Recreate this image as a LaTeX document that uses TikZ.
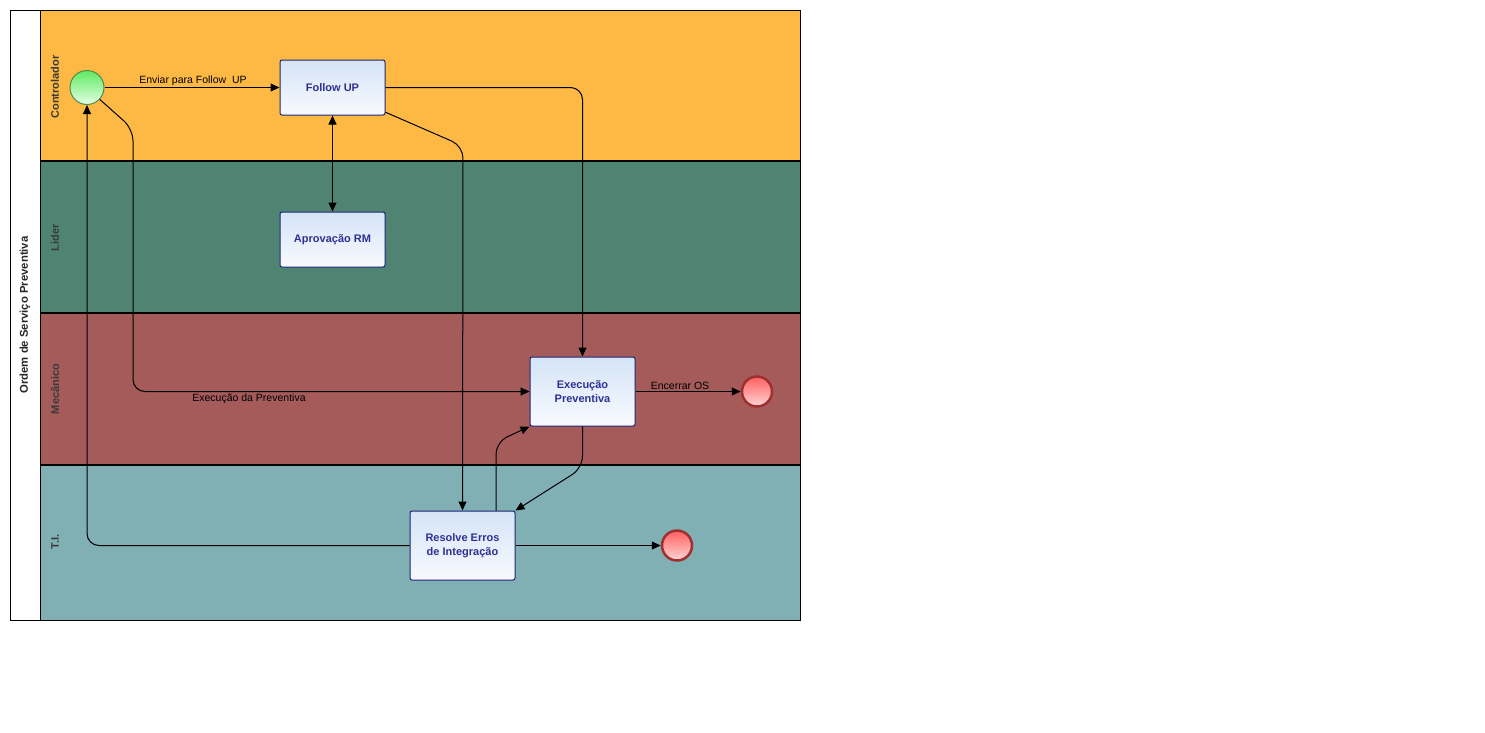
\documentclass[tikz,border=0pt]{standalone}
\usepackage{fontspec}
\setmainfont{Liberation Sans}
\usetikzlibrary{arrows.meta}
\definecolor{laneA}{HTML}{FDB944}
\definecolor{laneB}{HTML}{4F8473}
\definecolor{laneC}{HTML}{A55B59}
\definecolor{laneD}{HTML}{80AFB4}
\definecolor{taskTop}{HTML}{D4E4F7}
\definecolor{taskBot}{HTML}{F8FAFE}
\definecolor{taskLine}{HTML}{1C2478}
\definecolor{taskText}{HTML}{2E3194}
\definecolor{laneText}{HTML}{3A3A3A}
\definecolor{startTop}{HTML}{5FEA5F}
\definecolor{startBot}{HTML}{E6FFE6}
\definecolor{startLine}{HTML}{4E8A4E}
\definecolor{endTop}{HTML}{FF5F5F}
\definecolor{endBot}{HTML}{FFD6D6}
\definecolor{endLine}{HTML}{9E3030}
\begin{document}
\begin{tikzpicture}[x=1pt,y=-1pt,
  txt/.style={font=\fontsize{10.5}{13}\selectfont},
  lanelabel/.style={rotate=90, font=\bfseries\fontsize{11}{13}\selectfont, text=laneText},
  task/.style={draw=taskLine, line width=1pt, rounded corners=2pt, top color=taskTop, bottom color=taskBot,
    minimum width=105pt, inner sep=0pt, align=center, text=taskText,
    font=\bfseries\fontsize{11}{14}\selectfont},
  startev/.style={circle, draw=startLine, line width=1pt, minimum size=34pt, inner sep=0pt,
    top color=startTop, bottom color=startBot},
  endev/.style={circle, draw=endLine, line width=2.5pt, minimum size=30pt, inner sep=0pt,
    top color=endTop, bottom color=endBot},
  tip/.tip={Triangle[length=9pt,width=8pt]},
  flow/.style={-tip, line width=1pt, rounded corners=12pt},
]
\useasboundingbox[fill=white] (0,0) rectangle (1485,732);

% lanes
\fill[laneA] (40,10) rectangle (800,161);
\fill[laneB] (40,161) rectangle (800,313);
\fill[laneC] (40,313) rectangle (800,465);
\fill[laneD] (40,465) rectangle (800,620);
\draw[line width=1pt] (10,10) rectangle (800,620);
\draw[line width=1pt] (40,10) -- (40,620);
\draw[line width=2pt] (40,161) -- (800,161);
\draw[line width=2pt] (40,313) -- (800,313);
\draw[line width=2pt] (40,465) -- (800,465);

% pool and lane titles
\node[rotate=90, font=\bfseries\fontsize{11.3}{13}\selectfont, text=black!85] (pool) at (25,315) {Ordem de Serviço Preventiva};
\node[lanelabel] (l1) at (55,87) {Controlador};
\node[lanelabel] (l2) at (55,238) {Lider};
\node[lanelabel] (l3) at (55,389) {Mecânico};
\node[lanelabel] (l4) at (55,542) {T.I.};

% events and tasks
\node[startev] (start) at (87,87.5) {};
\node[task, minimum height=55pt] (fu) at (332.5,87.5) {Follow UP};
\node[task, minimum height=55pt] (ap) at (332.5,239.5) {Aprovação RM};
\node[task, minimum height=69pt] (ex) at (582.5,391.5) {Execução\\Preventiva};
\node[task, minimum height=69pt] (rs) at (462.5,545.5) {Resolve Erros\\de Integração};
\node[endev] (end1) at (757,391.5) {};
\node[endev] (end2) at (677,545.5) {};

% sequence flows
\draw[flow] (start) -- (fu);
\node[txt] (lb1) at (193,81) {Enviar para Follow~ UP};
\draw[flow] (start.-43) -- (133,129) -- (133,391.5) -- (ex.west);
\node[txt] (lb2) at (249,399) {Execução da Preventiva};
\draw[flow, tip-tip] (fu) -- (ap);
\draw[flow] (fu.-25) -- (463,146) -- (rs.north);
\draw[flow] (fu.east) -- (582.5,87.5) -- (ex.north);
\draw[flow] (ex.east) -- (end1);
\node[txt] (lb3) at (680,386) {Encerrar OS};
\draw[flow] (ex.south) -- (582.5,468) -- (rs.north east);
\draw[flow] ([xshift=33.5pt]rs.north) -- (496,442) -- (ex.south west);
\draw[flow] (rs.west) -- (87,545.5) -- (start.south);
\draw[flow] (rs.east) -- (end2);
\end{tikzpicture}
\end{document}
